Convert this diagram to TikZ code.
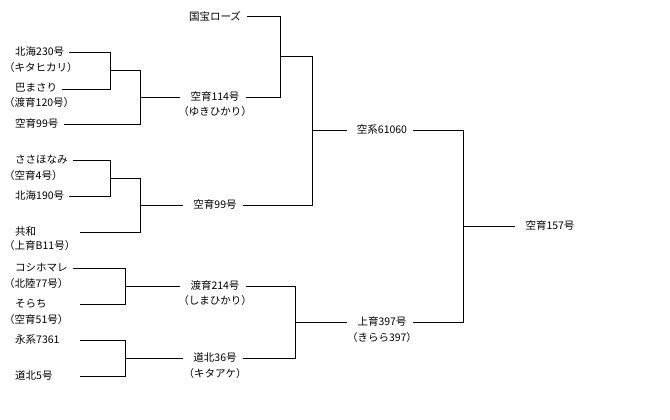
\documentclass[tikz,border=0pt]{standalone}
\usepackage{fontspec}
\setmainfont{Noto Sans CJK JP}
\begin{document}
\begin{tikzpicture}[x=1pt,y=-1pt,
  t/.style={inner sep=0pt,font=\fontsize{10.5}{12}\selectfont},
  l/.style={t,anchor=west},
  ln/.style={line width=0.8pt,black}]
\useasboundingbox (0,0) rectangle (670,420);
% left column
\node[l] (a1) at (15,52) {北海230号};
\node[l] (a1p) at (4,68) {（キタヒカリ）};
\node[l] (a2) at (15,88) {巴まさり};
\node[l] (a2p) at (4,103) {（渡育120号）};
\node[l] (a3) at (15,124) {空育99号};
\node[l] (b1) at (15,160) {ささほなみ};
\node[l] (b1p) at (4,176) {（空育4号）};
\node[l] (b2) at (15,196) {北海190号};
\node[l] (b3) at (15,232) {共和};
\node[l] (b3p) at (4,246) {（上育B11号）};
\node[l] (c1) at (15,268) {コシホマレ};
\node[l] (c1p) at (4,284) {（北陸77号）};
\node[l] (c2) at (15,304) {そらち};
\node[l] (c2p) at (4,320) {（空育51号）};
\node[l] (d1) at (15,340) {永系7361};
\node[l] (d2) at (15,376) {道北5号};
% middle column
\node[t] (m0) at (215,16) {国宝ローズ};
\node[t] (m1) at (215,97) {空育114号};
\node[t] (m1p) at (215,112) {（ゆきひかり）};
\node[t] (m2) at (215,205) {空育99号};
\node[t] (m3) at (215,286) {渡育214号};
\node[t] (m3p) at (215,301) {（しまひかり）};
\node[t] (m4) at (215,358) {道北36号};
\node[t] (m4p) at (215,374) {（キタアケ）};
% right
\node[t] (r1) at (382,130) {空系61060};
\node[t] (r2) at (382,322) {上育397号};
\node[t] (r2p) at (382,338) {（きらら397）};
\node[t] (f) at (550,226) {空育157号};
% connectors
\draw[ln] ([xshift=5pt]a1.east) -| (110,89) -- ([xshift=5pt]a2.east|-0,89);
\draw[ln] (110,70) -| (140,124) -- ([xshift=5pt]a3.east);
\draw[ln] (140,97) -- ([xshift=-10pt]m1.west);
\draw[ln] ([xshift=5pt]b1.east) -| (110,196) -- ([xshift=5pt]b2.east);
\draw[ln] (110,178) -| (140,232) -- (80,232);
\draw[ln] (140,205) -- ([xshift=-10pt]m2.west);
\draw[ln] ([xshift=5pt]c1.east) -| (125,304) -- (80,304);
\draw[ln] (125,286) -- ([xshift=-10pt]m3.west);
\draw[ln] (80,340) -| (125,376) -- (80,376);
\draw[ln] (125,358) -- ([xshift=-10pt]m4.west);
\draw[ln] ([xshift=6pt]m0.east) -| (280,97) -- ([xshift=6pt]m1.east);
\draw[ln] (280,56) -| (312,205) -- ([xshift=6pt]m2.east);
\draw[ln] (312,130) -- ([xshift=-10pt]r1.west);
\draw[ln] ([xshift=6pt]m3.east) -| (295,358) -- ([xshift=6pt]m4.east);
\draw[ln] (295,322) -- ([xshift=-10pt]r2.west);
\draw[ln] ([xshift=6pt]r1.east) -| (463,322) -- ([xshift=6pt]r2.east);
\draw[ln] (463,226) -- ([xshift=-10pt]f.west);
\end{tikzpicture}
\end{document}
